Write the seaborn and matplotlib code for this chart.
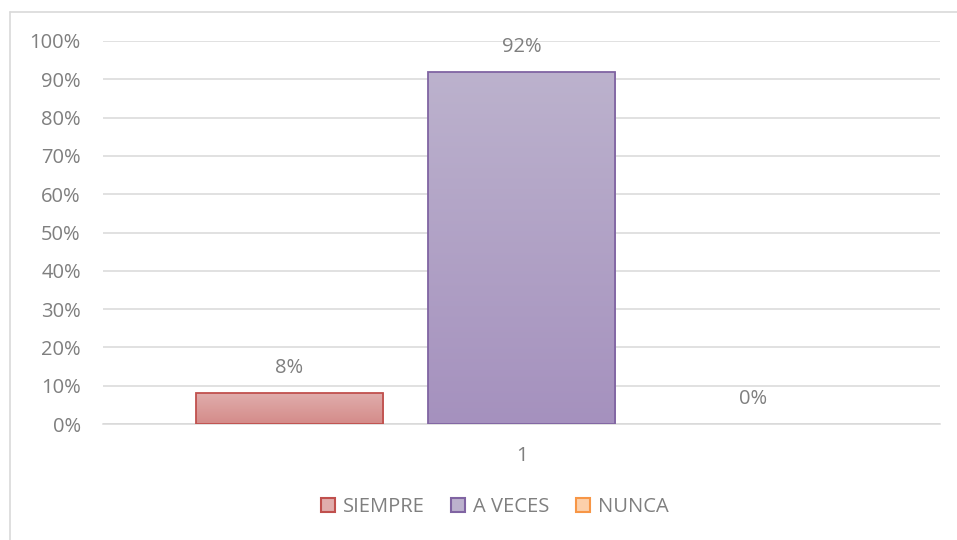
import matplotlib
matplotlib.use("Agg")
import matplotlib.pyplot as plt
import matplotlib.colors as mcolors
from matplotlib.lines import Line2D
import numpy as np
import pandas as pd
import seaborn as sns

categories = ["1"]
series = ["SIEMPRE", "A VECES", "NUNCA"]
values = [0.08, 0.92, 0.0]
labels = ["8%", "92%", "0%"]
tick_labels = ["0%", "10%", "20%", "30%", "40%", "50%", "60%", "70%", "80%", "90%", "100%"]

edge_colors = ["#c0504d", "#8064a2", "#f79646"]
top_colors = ["#e0adac", "#bcb2cd", "#fcd0ab"]
bot_colors = ["#d48b89", "#a591be", "#fab88a"]

sns.set_theme(style="white")
plt.rcParams["font.family"] = ["Open Sans", "DejaVu Sans"]
text_color = "#7f7f7f"
fs = 14.5

df = pd.DataFrame({"cat": categories * len(series), "serie": series, "valor": values})

fig = plt.figure(figsize=(9.57, 5.4), dpi=100)
ax = fig.add_axes([103 / 957, 1 - 424 / 540, 837 / 957, 383 / 540])

sns.barplot(data=df, x="cat", y="valor", hue="serie", hue_order=series,
            palette=dict(zip(series, bot_colors)), width=0.8315, gap=0.19,
            legend=False, ax=ax, zorder=3)

ax.set_xlim(-0.5, 0.5)
ax.set_ylim(0, 1)
ticks = np.linspace(0, 1, len(tick_labels))
ax.set_yticks(ticks)
ax.set_yticklabels(tick_labels)
ax.grid(axis="y", color="#d9d9d9", linewidth=1.1, zorder=0)
ax.set_axisbelow(True)
for s in ["top", "right", "left"]:
    ax.spines[s].set_visible(False)
ax.spines["bottom"].set_color("#d9d9d9")
ax.spines["bottom"].set_linewidth(1.1)
ax.tick_params(axis="both", length=0, labelsize=fs, colors=text_color)
ax.tick_params(axis="y", pad=16)
ax.tick_params(axis="x", pad=16)
ax.set_xlabel("")
ax.set_ylabel("")

patches = [p for p in ax.patches]
for i, p in enumerate(patches):
    x0, y0 = p.get_x(), p.get_y()
    w, h = p.get_width(), p.get_height()
    if h > 0:
        p.set_edgecolor(edge_colors[i])
        p.set_linewidth(1.3)
        cmap = mcolors.LinearSegmentedColormap.from_list("g", [bot_colors[i], top_colors[i]])
        grad = np.linspace(0, 1, 256).reshape(-1, 1)
        im = ax.imshow(grad, extent=[x0, x0 + w, y0, y0 + h], origin="lower",
                       cmap=cmap, aspect="auto", zorder=3.5)
        im.set_clip_path(p)
        p.set_facecolor("none")
        p.set_zorder(4)
    else:
        p.set_visible(False)
    ax.annotate(labels[i], (x0 + w / 2, y0 + h), xytext=(0, 18),
                textcoords="offset points", ha="center", va="center",
                fontsize=fs, color=text_color)
ax.set_xlim(-0.5, 0.5)
ax.set_ylim(0, 1)

handles = [Line2D([0], [0], marker="s", linestyle="none", markersize=10,
                  markerfacecolor=top_colors[i], markeredgecolor=edge_colors[i],
                  markeredgewidth=1.5) for i in range(len(series))]
fig.legend(handles, series, loc="center", bbox_to_anchor=(494 / 957, 1 - 507 / 540),
           ncol=3, frameon=False, fontsize=fs, labelcolor=text_color,
           handletextpad=0.3, columnspacing=1.2, handlelength=0.9)

border = dict(transform=fig.transFigure, color="#d9d9d9", linewidth=1.2)
fig.add_artist(Line2D([10 / 957, 10 / 957], [0, 1 - 12 / 540], **border))
fig.add_artist(Line2D([10 / 957, 1], [1 - 12 / 540, 1 - 12 / 540], **border))

fig.savefig("out.png", dpi=100, facecolor="white")
